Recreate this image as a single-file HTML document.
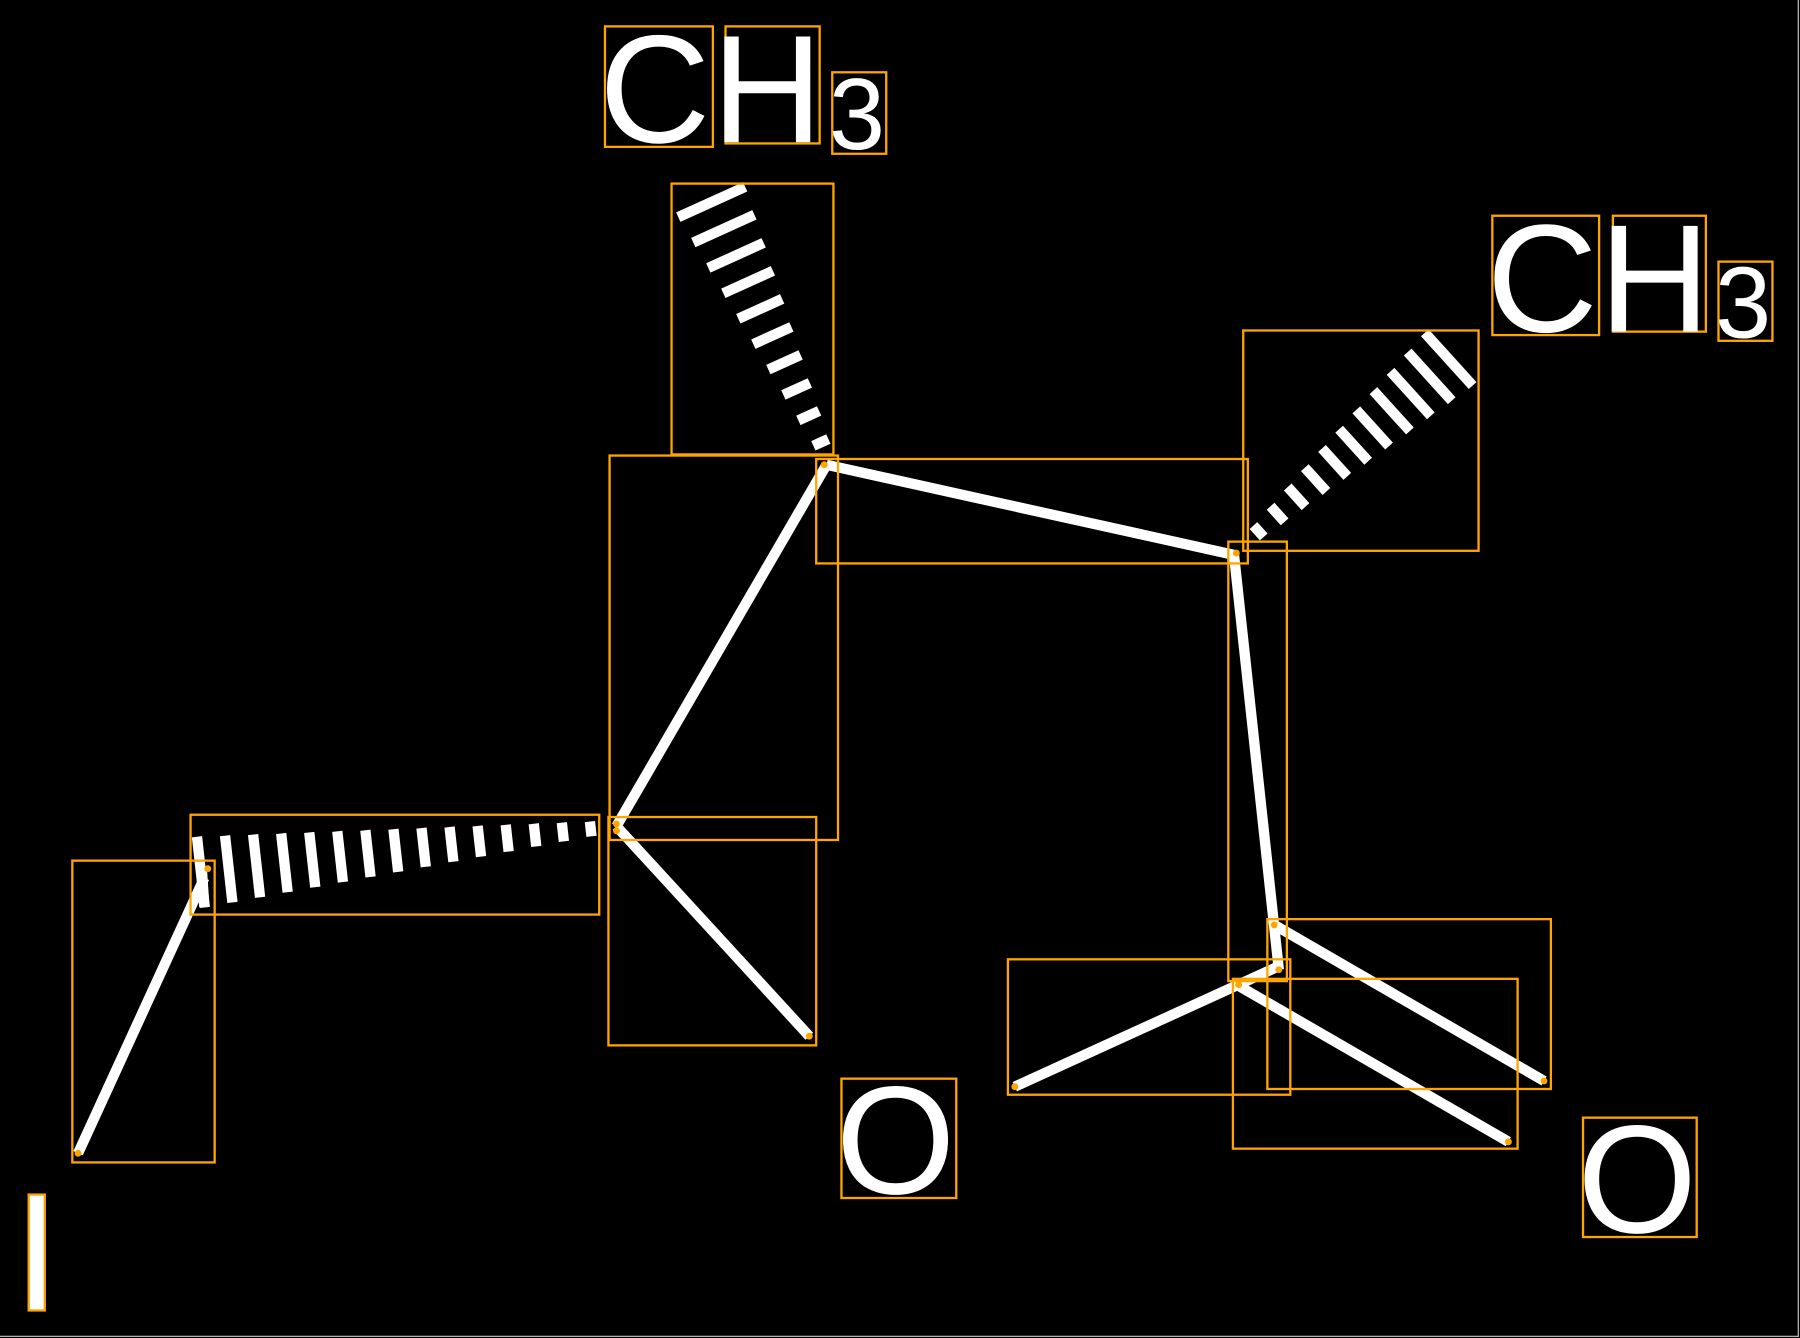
<!DOCTYPE html>
<html><head><meta charset="utf-8"><style>
html,body{margin:0;padding:0;background:#000;width:1800px;height:1338px;overflow:hidden}
svg{display:block}
text{font-family:"Liberation Sans",sans-serif;fill:#fff}
</style></head><body>
<svg id="s" width="1800" height="1338" viewBox="0 0 1568 1166" preserveAspectRatio="none">
<rect x="0" y="0" width="1568" height="1166" fill="#000"/>
<line x1="1566.5" y1="0" x2="1566.5" y2="1165" stroke="#ccc" stroke-width="1"/>
<line x1="0" y1="1164.5" x2="1567" y2="1164.5" stroke="#ccc" stroke-width="1"/>
<g stroke="#fff" stroke-width="9" stroke-linecap="butt" fill="none">
<line x1="720" y1="405" x2="537" y2="720"/>
<line x1="720" y1="405" x2="1077" y2="484"/>
<line x1="1075" y1="484" x2="1114" y2="845"/>
<line x1="537" y1="720" x2="705" y2="903"/>
<line x1="178" y1="765" x2="68" y2="1005"/>
<line x1="1110" y1="806" x2="1345" y2="942"/>
<line x1="1077" y1="858" x2="1314" y2="995"/>
<line x1="1114" y1="842" x2="884" y2="947"/>
<line x1="176" y1="760" x2="178" y2="790"/>
</g>
<g id="h" stroke="#fff" stroke-width="9"></g>
<g fill="none" stroke="#ffa500" stroke-width="2">
<rect x="585" y="160" width="141" height="236"/>
<rect x="531" y="397" width="199" height="335"/>
<rect x="711" y="400" width="376" height="91"/>
<rect x="1083" y="288" width="205" height="192"/>
<rect x="1070" y="472" width="51" height="383"/>
<rect x="166" y="710" width="356" height="87"/>
<rect x="63" y="750" width="124" height="263"/>
<rect x="530" y="712" width="181" height="199"/>
<rect x="878" y="836" width="246" height="118"/>
<rect x="1104" y="801" width="247" height="148"/>
<rect x="1074" y="853" width="248" height="148"/>
<rect x="527" y="23" width="94" height="105"/>
<rect x="632" y="23" width="82" height="102"/>
<rect x="725" y="63" width="47" height="71"/>
<rect x="1300" y="188" width="93" height="104"/>
<rect x="1405" y="188" width="81" height="101"/>
<rect x="1497" y="228" width="47" height="69"/>
<rect x="733" y="940" width="100" height="104"/>
<rect x="1379" y="974" width="99" height="104"/>
</g>
<rect x="25" y="1041" width="14" height="101" fill="#fff" stroke="#ffa500" stroke-width="2"/>
<g fill="#ffa500">
<circle cx="718" cy="405" r="3"/><circle cx="537" cy="718" r="3"/><circle cx="1077" cy="482" r="3"/>
<circle cx="705" cy="903" r="3"/><circle cx="68" cy="1005" r="3"/><circle cx="181" cy="757" r="3"/>
<circle cx="1110" cy="806" r="3"/><circle cx="1345" cy="942" r="3"/><circle cx="1079" cy="858" r="3"/>
<circle cx="1314" cy="995" r="3"/><circle cx="1114" cy="845" r="3"/><circle cx="884" cy="947" r="3"/>
<circle cx="537" cy="724" r="3"/>
</g>
<text x="522" y="124" font-size="134">C</text>
<text x="620" y="124" font-size="134">H</text>
<text x="722" y="130" font-size="88">3</text>
<text x="1295" y="289" font-size="134">C</text>
<text x="1393" y="289" font-size="134">H</text>
<text x="1494" y="294" font-size="88">3</text>
<text x="728" y="1040" font-size="134">O</text>
<text x="1374" y="1074" font-size="134">O</text>
</svg>
<script>
function wedge(nx,ny,wx,wy,w,n,t0){
 var g=document.getElementById('h'),dx=wx-nx,dy=wy-ny,L=Math.hypot(dx,dy),px=-dy/L,py=dx/L,s='';
 for(var i=0;i<n;i++){var t=t0+(1-t0)*i/(n-1),cx=nx+dx*t,cy=ny+dy*t,h=w/2*(0.2+0.8*t);
  s+='<line x1="'+(cx-px*h)+'" y1="'+(cy-py*h)+'" x2="'+(cx+px*h)+'" y2="'+(cy+py*h)+'"/>';}
 g.innerHTML+=s;
}
wedge(718,392,620,176,64,10,0.03);
wedge(1093,466,1262,313,62,11,0.02);
wedge(518,722,175,760,62,15,0.01);
</script>
</body></html>
